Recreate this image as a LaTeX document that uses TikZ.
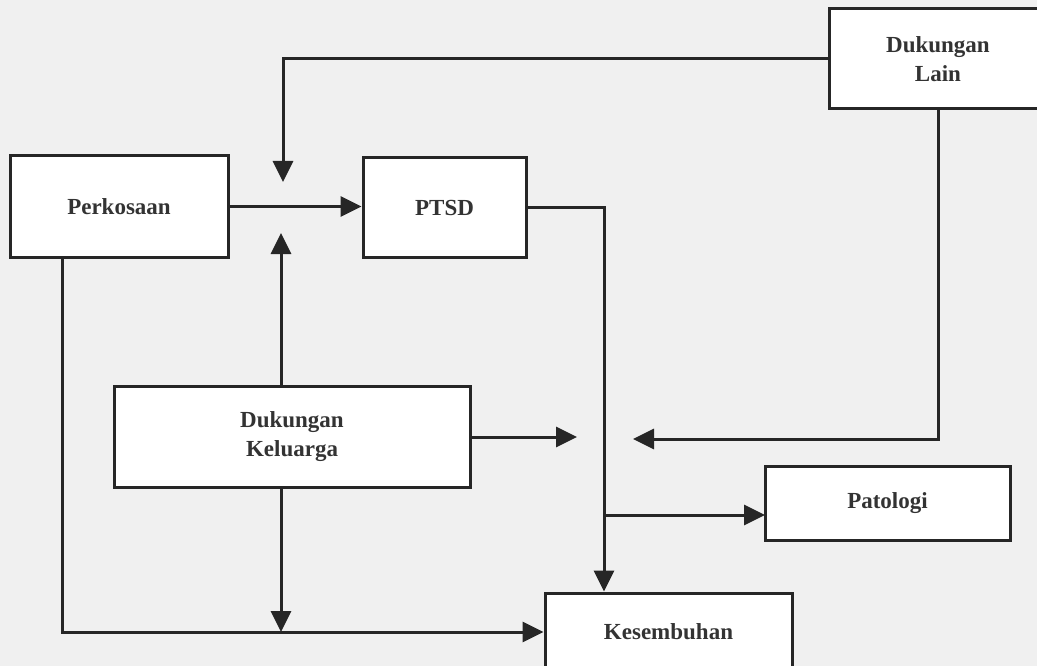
\documentclass[tikz,border=0pt]{standalone}
\usepackage{fontspec}
\setmainfont{Liberation Serif}
\usetikzlibrary{arrows}
\usetikzlibrary{arrows.meta}
\usetikzlibrary{calc}

\begin{document}
\begin{tikzpicture}[x=1pt,y=-1pt,
  block/.style={rectangle,draw=black!85,line width=3pt,fill=white,inner sep=0pt,align=center,
    text=black!80,font=\bfseries\fontsize{23}{29}\selectfont},
  flow/.style={draw=black!85,line width=3pt,-{Triangle[length=21pt,width=20pt]}}]

  \useasboundingbox (0,0) rectangle (1037,666);
  \clip (0,0) rectangle (1037,666);
  \fill[black!6] (0,0) rectangle (1037,666);

  \node[block,minimum width=218pt,minimum height=101pt] (perk) at (119,206.5) {Perkosaan};
  \node[block,minimum width=163pt,minimum height=99pt] (ptsd) at (444.5,207.5) {PTSD};
  \node[block,minimum width=218pt,minimum height=100pt] (lain) at (938,59) {Dukungan\\Lain};
  \node[block,minimum width=356pt,minimum height=101pt] (kel) at (292,436.5) {Dukungan\\Keluarga};
  \node[block,minimum width=245pt,minimum height=74pt] (pat) at (887.5,503) {Patologi};
  \node[block,minimum width=247pt,minimum height=78pt] (sembuh) at (668.5,632) {Kesembuhan};

  \coordinate (topin) at (283,182);
  \coordinate (botin) at (281,233);
  \coordinate (bend) at (604,207.5);
  \coordinate (kelout) at (577,437);
  \coordinate (lainin) at (633,439);
  \coordinate (patin) at (765,515);
  \coordinate (corner) at (62,632);

  \draw[flow] (perk.east) -- (perk.east -| ptsd.west);
  \draw[flow] (lain.west) -| (topin);
  \draw[flow] (kel.north -| botin) -- (botin);
  \draw[flow] (ptsd.east) -- (bend) -- (bend |- sembuh.north);
  \draw[flow] (kel.east |- kelout) -- (kelout);
  \draw[flow] (lain.south) |- (lainin);
  \draw[flow] (bend |- patin) -- (patin);
  \draw[flow] (kel.south -| botin) -- (botin |- corner);
  \draw[flow] (perk.south -| corner) -- (corner) -- (corner -| sembuh.west);
\end{tikzpicture}
\end{document}
